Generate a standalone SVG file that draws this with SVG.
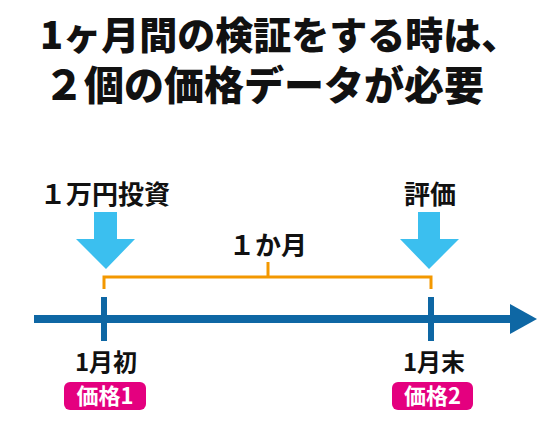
<svg xmlns="http://www.w3.org/2000/svg" width="559" height="439" viewBox="0 0 559 439">
<style>
text{font-family:"Noto Sans CJK JP","Noto Sans",sans-serif;font-weight:bold;fill:#111}
.title{font-weight:900}
.lbl{font-size:26px}
.tick{font-size:24px}
.badge rect{fill:#E4007F}
.badge text{fill:#fff;font-size:22px}
.down{fill:#3BBFEF}
.ax{stroke:#0E67A4;fill:none}
.br{stroke:#F39800;stroke-width:3;fill:none}
</style>
<rect width="559" height="439" fill="#fff"/>
<g id="title">
<text class="title" x="40" y="49" font-size="38">1ヶ月間の検証をする時は、</text>
<text class="title" x="44" y="100" font-size="40">２個の価格データが必要</text>
</g>
<g id="connectors">
<line class="ax" x1="34" y1="319" x2="512" y2="319" stroke-width="8"/>
<polygon points="510,304 537,319 510,334" fill="#0E67A4"/>
<line class="ax" x1="104" y1="297" x2="104" y2="341" stroke-width="6"/>
<line class="ax" x1="431" y1="297" x2="431" y2="341" stroke-width="6"/>
<polyline class="br" points="104,289 104,277 431,277 431,289"/>
<line class="br" x1="268" y1="262" x2="268" y2="277"/>
</g>
<g id="start">
<text class="lbl" x="40" y="204">１万円投資</text>
<polygon class="down" points="94,212 117,212 117,239 135,239 106,269 76,239 94,239"/>
</g>
<g id="eval">
<text class="lbl" x="430" y="204" text-anchor="middle">評価</text>
<polygon class="down" points="418,212 440,212 440,239 459,239 429,269 400,239 418,239"/>
</g>
<g id="period">
<text class="lbl" x="268" y="255" text-anchor="middle" font-size="24">１か月</text>
</g>
<g id="month-start">
<text class="tick" x="106" y="371" text-anchor="middle">1月初</text>
</g>
<g id="month-end">
<text class="tick" x="434" y="371" text-anchor="middle">1月末</text>
</g>
<g id="price1" class="badge">
<rect x="64" y="382" width="82" height="28" rx="6"/>
<text x="105" y="404" text-anchor="middle">価格1</text>
</g>
<g id="price2" class="badge">
<rect x="392" y="382" width="81" height="28" rx="6"/>
<text x="432.5" y="404" text-anchor="middle">価格2</text>
</g>
</svg>
